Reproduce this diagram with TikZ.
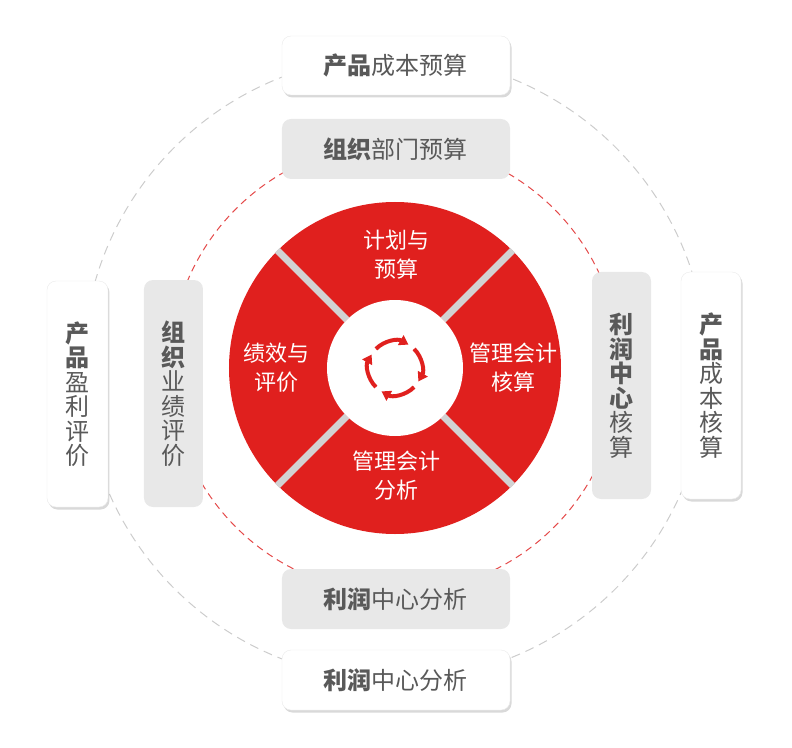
\documentclass[tikz,border=0pt]{standalone}
\usepackage{fontspec}
\newfontfamily\cjk{Noto Sans CJK SC}
\usetikzlibrary{shadows,arrows.meta}
\definecolor{ringred}{HTML}{E0201E}
\definecolor{txtgray}{HTML}{595959}
\definecolor{boxgray}{HTML}{E8E8E8}
\definecolor{gapgray}{HTML}{D2D2D2}
\definecolor{dashgray}{HTML}{CCCCCC}
\definecolor{dashred}{HTML}{E44A4A}
\tikzstyle{whitebox} = [rectangle, rounded corners=9pt, fill=white, draw=black!8,
    drop shadow={shadow xshift=1.5pt, shadow yshift=-2.5pt, opacity=0.25, fill=black!60},
    text=txtgray, font=\cjk\fontsize{24}{24.5}\selectfont, align=center, inner sep=0pt]
\tikzstyle{graybox} = [rectangle, rounded corners=9pt, fill=boxgray,
    text=txtgray, font=\cjk\fontsize{24}{24.5}\selectfont, align=center, inner sep=0pt]
\tikzstyle{ringtext} = [text=white, font=\cjk\fontsize{22}{29}\selectfont, align=center]
\tikzstyle{cycle} = [draw=ringred, line width=4pt, -{Triangle[length=9pt,width=11pt]}]

\begin{document}
\begin{tikzpicture}[x=1pt,y=1pt]
      \useasboundingbox (-395,-379) rectangle (397,368);
      % dashed rings
      \draw [dashgray, line width=1pt, dash pattern=on 9pt off 6pt] (0,0) circle (312);
      \draw [dashred, line width=1pt, dash pattern=on 7pt off 5pt] (0,0) circle (225);
      % red wheel
      \fill [ringred] (0,0) circle (166);
      \foreach \a in {45,135,225,315}
        \draw [gapgray, line width=7pt] (\a:68) -- (\a:166.5);
      \fill [white] (0,0) circle (68);
      \foreach \e in {60,-30,-120,-210}
        \draw [cycle] (\e+75:27) arc (\e+75:\e:27);
      \node [ringtext] (p) at (2,113) {计划与\\预算};
      \node [ringtext] (h) at (118,0) {管理会计\\核算};
      \node [ringtext] (f) at (2,-108) {管理会计\\分析};
      \node [ringtext] (j) at (-118,0) {绩效与\\评价};
      % outer boxes
      \node [whitebox, minimum width=228pt, minimum height=59pt] (a) at (1,302.5)
        {\bfseries 产品\mdseries 成本预算};
      \node [graybox, minimum width=228pt, minimum height=60pt] (b) at (1,219)
        {\bfseries 组织\mdseries 部门预算};
      \node [graybox, minimum width=228pt, minimum height=60pt] (c) at (1,-231)
        {\bfseries 利润\mdseries 中心分析};
      \node [whitebox, minimum width=228pt, minimum height=60pt] (d) at (1,-312)
        {\bfseries 利润\mdseries 中心分析};
      \node [whitebox, minimum width=61pt, minimum height=226pt] (e) at (-317.5,-26)
        {\bfseries 产\\\bfseries 品\\盈\\利\\评\\价};
      \node [graybox, minimum width=59pt, minimum height=227pt] (g) at (-221.5,-25.5)
        {\bfseries 组\\\bfseries 织\\业\\绩\\评\\价};
      \node [graybox, minimum width=59pt, minimum height=227pt] (k) at (226.5,-17.5)
        {\bfseries 利\\\bfseries 润\\\bfseries 中\\\bfseries 心\\核\\算};
      \node [whitebox, minimum width=60pt, minimum height=227pt] (m) at (316,-17.5)
        {\bfseries 产\\\bfseries 品\\成\\本\\核\\算};
  \end{tikzpicture}
\end{document}
